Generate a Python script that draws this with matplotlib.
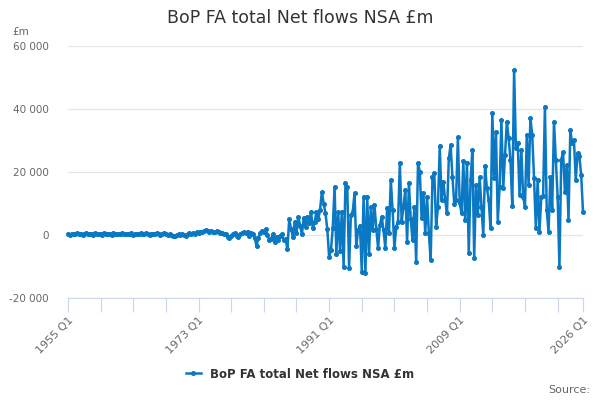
import numpy as np
import matplotlib
matplotlib.use("Agg")
import matplotlib.pyplot as plt
from matplotlib.ticker import FuncFormatter

BLUE = "#0a78c2"
GREY = "#666666"

START_YEAR = 1955
# quarterly net flows, £m, 1955 Q1 .. 2026 Q1
net_flows = [
    300, 100, 400, 200,        # 1955
    300, 500, 200, 400,
    100, 300, 600, 200,
    400, 300, 100, 500,
    200, 400, 300, 100,
    500, 200, 300, 400,        # 1960
    100, 600, 200, 300,
    400, 200, 500, 300,
    300, 400, 200, 500,
    100, 300, 400, 200,
    500, 300, 200, 600,        # 1965
    300, 100, 400, 300,
    200, 500, 300, 100,
    400, 700, 300, 100,
    300, 0, -200, -400,
    0, 200, -100, 300,         # 1970
    100, -300, 200, 500,
    300, 600, 400, 800,
    700, 1000, 900, 1300,
    1600, 1200, 1000, 1400,
    1000, 800, 1200, 900,      # 1975
    700, 500, 300, 200,
    -500, -1000, -300, 200,
    500, -200, -600, 300,
    700, 1000, 600, 1100,
    -300, 700, 300, -1000,     # 1980
    -3500, -800, 500, 1300,
    900, 1900, 0, -1600,
    -1400, 400, -2100, -500,
    -1600, -300, 300, -1500,
    -1200, -4500, 5000, 2000,  # 1985
    -600, 4000, 500, 5800,
    3000, 200, 5500, 2500,
    5800, 3800, 7400, 2200,
    4000, 7400, 5000, 8000,
    13700, 10000, 6900, 1800,  # 1990
    -6900, -4800, 2100, 15300,
    -6000, 7400, -5000, 7400,
    -10000, 16400, 15300, -10600,
    6400, 7400, 13200, -3500,
    1600, 2900, -11600, 12200,  # 1995
    -12200, 12200, -6000, 9000,
    1600, 9500, 2000, -4200,
    3200, 5800, 1500, -4200,
    8500, 500, 17500, 7900,
    -4200, 2600, 4200, 22800,   # 2000
    4200, 9000, 14300, -2100,
    16400, 5000, -1600, 9000,
    -8500, 22800, 20100, 5300,
    13200, 500, 12200, 500,
    -7900, 18500, 19600, 2600,  # 2005
    9000, 28300, 11100, 16900,
    11100, 6900, 24300, 28600,
    18500, 10000, 11100, 31000,
    10300, 6900, 23600, 4800,
    23000, -5800, 17500, 27000,  # 2010
    -7400, 15900, 6400, 18300,
    9000, 0, 21900, 14800,
    11100, 2100, 38600, 18000,
    32800, 4200, 15300, 36500,
    14800, 25400, 36000, 30700,  # 2015
    23800, 9200, 52400, 27500,
    29200, 12700, 27000, 12200,
    9000, 31800, 15900, 37000,
    31800, 18000, 2100, 17500,
    1000, 12200, 12500, 40700,   # 2020
    7900, 1000, 18500, 7900,
    36000, 23800, 12200, -10000,
    23800, 26400, 13700, 22200,
    4800, 33300, 29100, 30200,
    17500, 25900, 25000, 19000,  # 2025
    7400,
]

quarters = [f"{START_YEAR + k // 4} Q{k % 4 + 1}" for k in range(len(net_flows))]
labelled = ["1955 Q1", "1973 Q1", "1991 Q1", "2009 Q1", "2026 Q1"]
y_ticks = [-20000, 0, 20000, 40000, 60000]


def thousands(v, _pos):
    return f"{int(v):,}".replace(",", " ")


fig = plt.figure(figsize=(6, 4), dpi=100)
ax = fig.add_axes([68 / 600, 102 / 400, 515 / 600, 252 / 400])

x = np.arange(len(net_flows))
ax.plot(x, net_flows, color=BLUE, lw=1.8, marker="o", ms=2.6,
        label="BoP FA total Net flows NSA £m", clip_on=False, zorder=3)

ax.set_xlim(0, len(net_flows) - 1)
ax.set_ylim(-20000, 60000)

# horizontal grid only, Highcharts look
ax.set_yticks(y_ticks)
ax.yaxis.set_major_formatter(FuncFormatter(thousands))
ax.grid(axis="y", color="#e6e6e6", lw=0.9)
ax.set_axisbelow(True)
for side in ("top", "right", "left"):
    ax.spines[side].set_visible(False)
ax.spines["bottom"].set_color("#ccd6eb")
ax.tick_params(axis="y", length=0, labelsize=7.5, labelcolor=GREY, pad=14)

# ticks every 18 quarters plus the last one, labels every 72
tick_pos = list(range(0, len(net_flows) - 1, 18)) + [len(net_flows) - 1]
tick_lab = [quarters[p] if quarters[p] in labelled else "" for p in tick_pos]
ax.set_xticks(tick_pos)
ax.set_xticklabels(tick_lab, rotation=45, ha="right", va="top",
                   rotation_mode="anchor")
ax.tick_params(axis="x", length=10, color="#ccd6eb", labelsize=8,
               labelcolor=GREY, pad=2)

fig.text(0.5, 1 - 18 / 400, "BoP FA total Net flows NSA £m", ha="center",
         va="center", fontsize=12.5, color="#333333")
fig.text(12 / 600, 1 - 32 / 400, "£m", ha="left", va="center", fontsize=7.5,
         color=GREY)
fig.text(590 / 600, 1 - 390 / 400, "Source:", ha="right", va="center",
         fontsize=8, color=GREY)

leg = fig.legend(loc="center", bbox_to_anchor=(0.5, 1 - 374 / 400), frameon=False,
                 handlelength=1.3, prop={"weight": "bold", "size": 8.5})
for t in leg.get_texts():
    t.set_color("#333333")

fig.savefig("out.png", dpi=100)
